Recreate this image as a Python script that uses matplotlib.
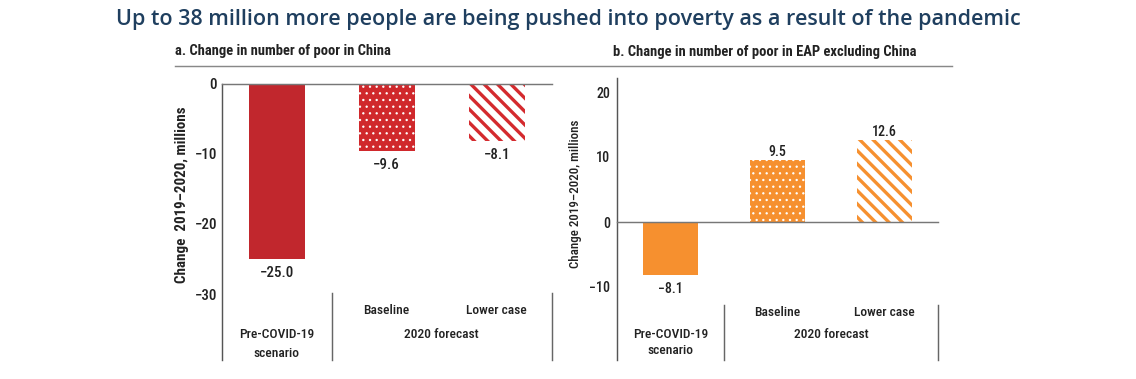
import matplotlib
matplotlib.use("Agg")
import matplotlib.pyplot as plt
from matplotlib import font_manager
from matplotlib.font_manager import FontProperties
from matplotlib.lines import Line2D
from matplotlib.transforms import blended_transform_factory

# ---------------- data ----------------
title = "Up to 38 million more people are being pushed into poverty as a result of the pandemic"
subtitle_a = "a. Change in number of poor in China"
subtitle_b = "b. Change in number of poor in EAP excluding China"
scenarios = ["Pre-COVID-19\nscenario", "Baseline", "Lower case"]
group_label = "2020 forecast"
china_values = [-25.0, -9.6, -8.1]
eap_values = [-8.1, 9.5, 12.6]
china_ticks = [0, -10, -20, -30]
eap_ticks = [20, 10, 0, -10]
ylabel_a = "Change  2019\u20132020, millions"
ylabel_b = "Change 2019\u20132020, millions"

# ---------------- fonts ----------------
W, H, DPI = 1136, 379, 80
PT = 72.0 / DPI  # px -> pt

_wmap = {"ultralight": 100, "light": 300, "normal": 400, "regular": 400, "book": 400,
         "medium": 500, "roman": 400, "semibold": 600, "demibold": 600, "demi": 600,
         "bold": 700, "heavy": 800, "extra bold": 800, "black": 900}
_smap = {"ultra-condensed": 100, "extra-condensed": 200, "condensed": 300,
         "semi-condensed": 400, "normal": 500, "semi-expanded": 600, "expanded": 700}


def _w(f):
    return f.weight if isinstance(f.weight, int) else _wmap.get(str(f.weight).lower(), 400)


def _s(f):
    return f.stretch if isinstance(f.stretch, int) else _smap.get(str(f.stretch).lower(), 500)


def find_condensed(target):
    pref = ["Liberation Sans Narrow", "Roboto Condensed", "Open Sans", "Noto Sans",
            "DejaVu Sans", "Lato", "Roboto", "Inter"]
    ttf = font_manager.fontManager.ttflist
    for fam in pref:
        best = None
        for f in ttf:
            if f.name != fam or f.style != "normal":
                continue
            narrow = ("Narrow" in fam) or ("Condensed" in fam) or _s(f) <= 400
            if not narrow:
                continue
            w = _w(f)
            score = abs(w - target) + abs(_s(f) - 300) / 10
            if best is None or score < best[0]:
                best = (score, f.fname, w)
        if best and abs(best[2] - target) <= 150:
            return best[1]
    return None


reg_path = find_condensed(400)
med_path = find_condensed(500) or reg_path
bold_path = find_condensed(700)
FP = FontProperties(fname=reg_path) if reg_path else FontProperties(family="Roboto")
FPM = FontProperties(fname=med_path) if med_path else FP
FPB = (FontProperties(fname=bold_path) if bold_path
       else FontProperties(family="Roboto", weight="bold"))

names = {f.name for f in font_manager.fontManager.ttflist}
TITLE_FONT = "Open Sans" if "Open Sans" in names else "DejaVu Sans"

RED = "#C1272D"
RED_DOT = "#D0282C"
RED_STRIPE = "#D42A2E"
ORANGE = "#F6902F"
GRAY = "#777777"
TXT = "#222222"


def fx(px):
    return px / W


def fy(py):
    return 1 - py / H


def fp(base, px):
    p = base.copy()
    p.set_size(px * PT)
    return p


def mkbar(ax, x, v, width, hatch_lw=None, **kw):
    if hatch_lw is not None:
        with plt.rc_context({"hatch.linewidth": hatch_lw}):
            b = ax.bar(x, v, width, **kw)
        for p in b:
            if hasattr(p, "set_hatch_linewidth"):
                p.set_hatch_linewidth(hatch_lw)
    else:
        b = ax.bar(x, v, width, **kw)
    return b


def fmt(v):
    s = f"{abs(v):.1f}"
    return ("\u2212" + s) if v < 0 else s


def panel(ax, values, solid, dotface, stripe, ylim, ticks, fs, cat_fs, tick_pad,
          y_small, y_big1, y_big2, sep_top, width):
    x = list(range(len(values)))
    f = fp(FPM, fs)
    fc = fp(FPM, cat_fs)
    mkbar(ax, x[0], values[0], width, color=solid, linewidth=0, zorder=2)
    mkbar(ax, x[1], values[1], width, color=dotface, linewidth=0, zorder=2)
    mkbar(ax, x[1], values[1], width, hatch_lw=0.9, facecolor="none",
          edgecolor="white", hatch="..", linewidth=0, zorder=3)
    mkbar(ax, x[2], values[2], width, hatch_lw=3.0, facecolor="white",
          edgecolor=stripe, hatch="\\\\", linewidth=0, zorder=2)

    ax.set_xlim(-0.5, 2.5)
    ax.set_ylim(*ylim)
    ax.set_yticks(ticks)
    ax.set_yticklabels([fmt(t).replace(".0", "") for t in ticks])
    for lab in ax.get_yticklabels():
        lab.set_fontproperties(f)
        lab.set_color(TXT)
    ax.tick_params(axis="y", length=0, pad=tick_pad)
    ax.set_xticks([])
    for s in ["top", "right", "bottom"]:
        ax.spines[s].set_visible(False)
    ax.spines["left"].set_color("#555555")
    ax.spines["left"].set_linewidth(1.3)
    ax.axhline(0, color=GRAY, lw=1.3, zorder=4, clip_on=False)

    # value labels
    for xi, v in zip(x, values):
        if v < 0:
            ax.annotate(fmt(v), (xi, v), xytext=(0, -7 * PT), textcoords="offset points",
                        ha="center", va="top", fontproperties=f, color=TXT)
        else:
            ax.annotate(fmt(v), (xi, v), xytext=(0, 1 * PT), textcoords="offset points",
                        ha="center", va="bottom", fontproperties=f, color=TXT)

    tr = blended_transform_factory(ax.transData, ax.transAxes)
    ax.text(x[1], y_small, scenarios[1], transform=tr, ha="center", va="center",
            fontproperties=fc, color=TXT)
    ax.text(x[2], y_small, scenarios[2], transform=tr, ha="center", va="center",
            fontproperties=fc, color=TXT)
    l1, l2 = scenarios[0].split("\n")
    ax.text(x[0], y_big1, l1, transform=tr, ha="center", va="center",
            fontproperties=fc, color=TXT)
    ax.text(x[0], y_big2, l2, transform=tr, ha="center", va="center",
            fontproperties=fc, color=TXT)
    ax.text((x[1] + x[2]) / 2, y_big1, group_label, transform=tr, ha="center",
            va="center", fontproperties=fc, color=TXT)
    for sx in (0.5, 2.5):
        ax.add_line(Line2D([sx, sx], [0, sep_top], transform=tr, color="#666666",
                           lw=1.3, clip_on=False))


fig = plt.figure(figsize=(W / DPI, H / DPI), dpi=DPI)

# panel a
ax_a = fig.add_axes([fx(221.7), fy(360), fx(551.7) - fx(221.7), (360 - 84) / H])
panel(ax_a, china_values, RED, RED_DOT, RED_STRIPE, (-(360 - 84) / 7.0, 0),
      china_ticks, 15, 13.5, 4.7 * PT, 0.181, 0.094, 0.025, 0.243, 0.51)

# panel b
ax_b = fig.add_axes([fx(617), fy(360), fx(938) - fx(617), (360 - 78) / H])
panel(ax_b, eap_values, ORANGE, ORANGE, ORANGE, (-(360 - 222) / 6.5, (222 - 78) / 6.5),
      eap_ticks, 14, 13.5, 7 * PT, 0.170, 0.089, 0.035, 0.195, 0.505)

# titles & rules
fig.text(0.5, fy(20), title, ha="center", va="center", color="#1F3F5F",
         fontsize=21.5 * PT, fontweight="semibold", family=[TITLE_FONT, "DejaVu Sans"])
fig.text(fx(175), fy(51), subtitle_a, ha="left", va="center",
         fontproperties=fp(FPB, 14.5), color=TXT)
fig.text(fx(613), fy(52), subtitle_b, ha="left", va="center",
         fontproperties=fp(FPB, 14.5), color=TXT)
fig.add_artist(Line2D([fx(175), fx(952)], [fy(65.5), fy(65.5)], color="#888888", lw=1.3))

fig.text(fx(182), fy(194.5), ylabel_a, rotation=90, ha="center", va="center",
         fontproperties=fp(FPB, 15), color=TXT)
fig.text(fx(575), fy(194), ylabel_b, rotation=90, ha="center", va="center",
         fontproperties=fp(FPM, 13), color=TXT)

fig.savefig("out.png", dpi=DPI)
